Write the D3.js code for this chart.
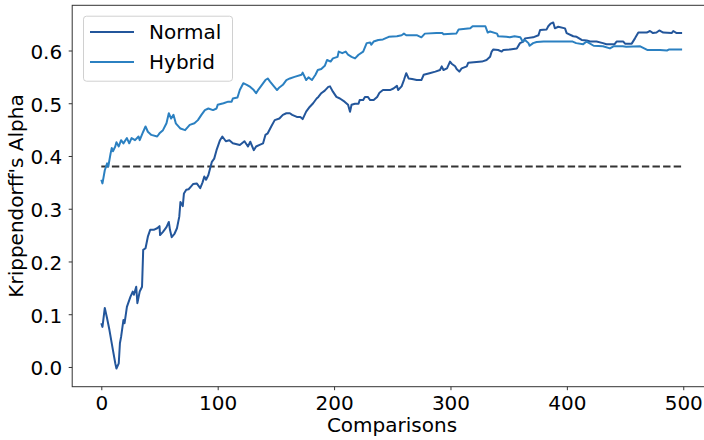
<!DOCTYPE html>
<html>
<head>
<meta charset="utf-8">
<script src="https://cdn.jsdelivr.net/npm/d3@7"></script>
<style>
  body { margin: 0; background: #fff; }
  svg { display: block; font-family: "DejaVu Sans", sans-serif; }
</style>
</head>
<body>
<div id="chart"></div>
<script>
// values
var normalX = [0, 1, 3, 5, 7, 10, 12, 13, 15, 16, 17, 19, 20, 22, 25, 27, 28, 30, 31, 33, 35, 36, 38, 40, 42, 45, 48, 50, 50.5, 53, 56, 58, 59, 60.5, 63, 65, 67, 68, 70, 71, 73, 75, 77, 79, 82, 85, 87, 88.5, 90, 92, 95, 97, 99, 102, 104, 107, 110, 113, 119, 123, 126, 128, 131, 133, 136, 139, 141, 143, 146, 149, 153, 156, 159, 162, 164, 168, 171, 173, 176, 179, 182, 185, 186.5, 189, 192, 195, 196.5, 199, 202, 205, 209, 212, 213.7, 215, 218, 221, 222, 225, 226.5, 229, 231, 234, 237, 239, 242, 248, 251, 254, 255, 258, 260, 262, 264, 267, 271, 275, 277, 282, 287, 291, 292.5, 294, 297, 299.6, 301, 304, 305.3, 307.6, 309.6, 314, 315.3, 327, 331, 334, 335.4, 336.8, 341, 344, 345.4, 351, 357, 359.7, 362.6, 364, 371, 375.6, 377, 382.6, 384, 386, 388.3, 389.7, 392.6, 398.4, 399.8, 405.5, 408.4, 412.7, 417, 420, 425.5, 431, 434, 441, 442.7, 448.5, 450, 455.7, 458.5, 461.4, 468.6, 471.4, 474, 477, 479.4, 482.8, 490, 491.4, 494.3, 499];
var normalY = [0.083, 0.076, 0.112, 0.092, 0.070, 0.032, 0.007, -0.003, 0.007, 0.045, 0.057, 0.089, 0.083, 0.114, 0.133, 0.143, 0.137, 0.152, 0.121, 0.143, 0.152, 0.222, 0.225, 0.247, 0.260, 0.260, 0.263, 0.267, 0.250, 0.256, 0.265, 0.275, 0.260, 0.246, 0.253, 0.263, 0.285, 0.313, 0.305, 0.329, 0.336, 0.337, 0.342, 0.347, 0.348, 0.339, 0.350, 0.361, 0.355, 0.364, 0.389, 0.395, 0.411, 0.430, 0.437, 0.428, 0.430, 0.424, 0.421, 0.428, 0.418, 0.427, 0.411, 0.418, 0.421, 0.424, 0.440, 0.443, 0.456, 0.468, 0.471, 0.478, 0.481, 0.481, 0.478, 0.474, 0.474, 0.470, 0.484, 0.493, 0.500, 0.509, 0.512, 0.519, 0.524, 0.531, 0.532, 0.522, 0.512, 0.509, 0.503, 0.497, 0.484, 0.497, 0.499, 0.499, 0.506, 0.506, 0.512, 0.512, 0.506, 0.506, 0.512, 0.520, 0.525, 0.525, 0.528, 0.533, 0.525, 0.532, 0.544, 0.557, 0.547, 0.546, 0.544, 0.544, 0.554, 0.557, 0.560, 0.563, 0.570, 0.563, 0.566, 0.579, 0.575, 0.570, 0.565, 0.560, 0.566, 0.570, 0.577, 0.579, 0.582, 0.588, 0.598, 0.602, 0.601, 0.598, 0.601, 0.602, 0.604, 0.614, 0.617, 0.623, 0.625, 0.629, 0.639, 0.640, 0.646, 0.651, 0.653, 0.642, 0.645, 0.642, 0.633, 0.627, 0.626, 0.620, 0.619, 0.617, 0.617, 0.614, 0.612, 0.612, 0.617, 0.617, 0.613, 0.613, 0.623, 0.634, 0.634, 0.637, 0.633, 0.634, 0.638, 0.634, 0.633, 0.637, 0.633, 0.633];

var hybridX = [0, 1, 3, 5, 6, 8, 9, 10, 12, 13, 15, 17, 19, 22, 24, 26, 29, 32, 33, 36, 38, 40, 43, 48, 50, 53, 56, 58, 60, 62, 64, 68, 72, 76, 80, 83, 86, 89, 92, 96, 99, 100, 105, 109, 112, 113, 117, 119, 122, 125, 128, 131, 133, 135, 138, 141, 143, 145, 148, 151, 153, 156, 159, 162, 166, 172, 173, 176, 178, 181, 184, 186, 189, 192, 194, 197, 199, 203, 204, 207, 210, 212, 215, 218, 221, 225, 228, 231, 232, 234, 238, 242, 247, 254, 258, 260, 262, 271, 275, 278, 288, 293, 294, 305, 307, 317, 319, 330, 332, 334, 340, 341, 348, 351, 355, 360, 362, 364, 367, 368, 371, 374, 380, 405, 408, 414, 417, 423, 431, 437, 440, 448, 451, 463, 469, 480, 486, 488, 499];
var hybridY = [0.355, 0.348, 0.373, 0.386, 0.380, 0.405, 0.415, 0.409, 0.418, 0.426, 0.418, 0.430, 0.424, 0.434, 0.424, 0.434, 0.430, 0.437, 0.430, 0.446, 0.456, 0.446, 0.440, 0.437, 0.443, 0.449, 0.462, 0.481, 0.471, 0.478, 0.462, 0.452, 0.449, 0.459, 0.462, 0.468, 0.478, 0.487, 0.490, 0.487, 0.490, 0.497, 0.500, 0.503, 0.503, 0.509, 0.511, 0.525, 0.538, 0.535, 0.531, 0.525, 0.519, 0.526, 0.535, 0.544, 0.547, 0.541, 0.533, 0.525, 0.530, 0.535, 0.544, 0.547, 0.550, 0.554, 0.558, 0.544, 0.549, 0.544, 0.554, 0.563, 0.565, 0.571, 0.582, 0.579, 0.585, 0.588, 0.598, 0.595, 0.598, 0.592, 0.588, 0.585, 0.592, 0.598, 0.614, 0.615, 0.611, 0.617, 0.620, 0.621, 0.626, 0.627, 0.629, 0.632, 0.629, 0.629, 0.625, 0.632, 0.633, 0.633, 0.631, 0.632, 0.640, 0.642, 0.646, 0.646, 0.634, 0.636, 0.632, 0.627, 0.626, 0.625, 0.627, 0.625, 0.617, 0.620, 0.614, 0.609, 0.614, 0.616, 0.617, 0.617, 0.614, 0.612, 0.617, 0.609, 0.608, 0.604, 0.608, 0.608, 0.607, 0.608, 0.601, 0.601, 0.600, 0.602, 0.602];

var baseline = 0.38;
var baselineRange = [0, 499];
var seriesNames = ["Normal", "Hybrid"];
var seriesColors = ["#23569b", "#2b80c1"];
var xTicks = [0, 100, 200, 300, 400, 500];
var yTicks = [0.0, 0.1, 0.2, 0.3, 0.4, 0.5, 0.6];

var svgWidth = 704;
var svgHeight = 440;
var fontSize = 20;

var svg = d3.select("#chart")
  .append("svg")
  .attr("width", svgWidth)
  .attr("height", svgHeight);

// axes box (right spine falls outside the picture, like the original crop)
var x = d3.scaleLinear().domain([-25, 524]).range([72.2, 711.2]);
var y = d3.scaleLinear().domain([-0.0374, 0.6857]).range([386.7, 5.3]);

function pairs(xs, ys) {
  return xs.map(function(d, i) { return [d, ys[i]]; });
}

var line = d3.line()
  .x(function(d) { return x(d[0]); })
  .y(function(d) { return y(d[1]); });

// dashed reference line
svg.append("line")
  .attr("x1", x(baselineRange[0]))
  .attr("x2", x(baselineRange[1]))
  .attr("y1", y(baseline))
  .attr("y2", y(baseline))
  .attr("stroke", "#333")
  .attr("stroke-width", 2)
  .attr("stroke-dasharray", "7.4,3.2");

var allSeries = [pairs(normalX, normalY), pairs(hybridX, hybridY)];

svg.append("g")
  .selectAll("path")
  .data(allSeries)
  .enter()
  .append("path")
  .attr("d", line)
  .attr("fill", "none")
  .attr("stroke", function(d, i) { return seriesColors[i]; })
  .attr("stroke-width", 2)
  .attr("stroke-linejoin", "round");

// spines
svg.append("rect")
  .attr("x", 72.2)
  .attr("y", 5.3)
  .attr("width", 711.2 - 72.2)
  .attr("height", 386.7 - 5.3)
  .attr("fill", "none")
  .attr("stroke", "#333")
  .attr("stroke-width", 1);

var xAxis = d3.axisBottom(x)
  .tickValues(xTicks)
  .tickSize(3.5)
  .tickPadding(6)
  .tickFormat(d3.format("d"));

var gx = svg.append("g")
  .attr("transform", "translate(0," + 386.7 + ")")
  .call(xAxis);

var yAxis = d3.axisLeft(y)
  .tickValues(yTicks)
  .tickSize(3.5)
  .tickPadding(6.5)
  .tickFormat(d3.format(".1f"));

var gy = svg.append("g")
  .attr("transform", "translate(" + 72.2 + ",0)")
  .call(yAxis);

[gx, gy].forEach(function(g) {
  g.select(".domain").remove();
  g.selectAll(".tick line").attr("stroke", "#333");
  g.selectAll(".tick text")
    .attr("fill", "#000")
    .attr("font-size", fontSize)
    .attr("font-family", "DejaVu Sans");
});
gy.selectAll(".tick text").attr("dy", "0.4em");

svg.append("text")
  .text("Comparisons")
  .attr("x", 392)
  .attr("y", 432)
  .attr("text-anchor", "middle")
  .attr("font-size", fontSize)
  .attr("fill", "#000");

svg.append("text")
  .text("Krippendorff's Alpha")
  .attr("transform", "translate(23," + 196 + ") rotate(-90)")
  .attr("text-anchor", "middle")
  .attr("font-size", fontSize)
  .attr("fill", "#000");

// legend
var legend = svg.append("g");
legend.append("rect")
  .attr("x", 83.5)
  .attr("y", 16.2)
  .attr("width", 149)
  .attr("height", 65)
  .attr("rx", 3)
  .attr("fill", "#fff")
  .attr("fill-opacity", 0.8)
  .attr("stroke", "#d0d0d0")
  .attr("stroke-width", 1);

var items = legend.selectAll("g.item")
  .data(seriesNames)
  .enter()
  .append("g")
  .attr("class", "item")
  .attr("transform", function(d, i) { return "translate(0," + (32 + i * 30) + ")"; });

items.append("line")
  .attr("x1", 90)
  .attr("x2", 134)
  .attr("stroke", function(d, i) { return seriesColors[i]; })
  .attr("stroke-width", 2);

items.append("text")
  .text(function(d) { return d; })
  .attr("x", 149)
  .attr("dy", "0.36em")
  .attr("font-size", fontSize)
  .attr("fill", "#000");
</script>
</body>
</html>
